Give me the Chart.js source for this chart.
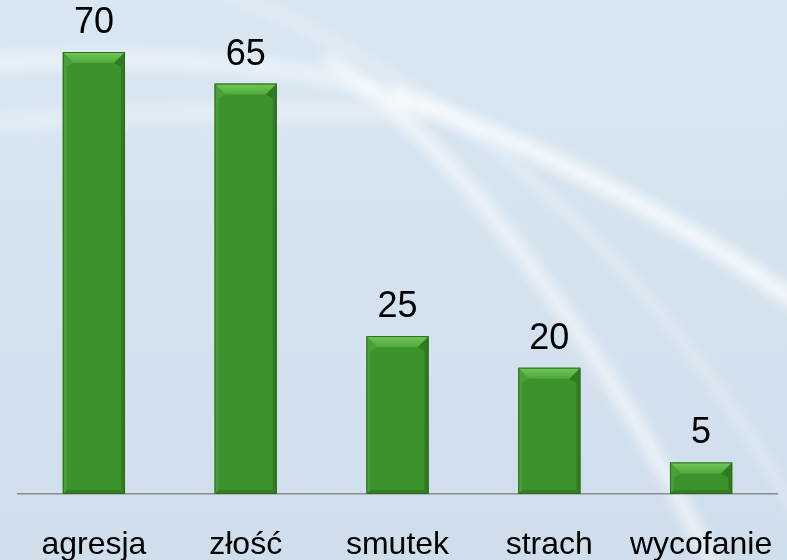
<!DOCTYPE html>
<html>
<head>
<meta charset="utf-8">
<script src="https://cdn.jsdelivr.net/npm/chart.js@4"></script>
<style>
html,body{margin:0;padding:0;background:#d5e4f0;}
#wrap{width:787px;height:560px;position:relative;}
</style>
</head>
<body>
<div id="wrap"><canvas id="c" width="787" height="560"></canvas></div>
<script>
const categories = ['agresja', 'złość', 'smutek', 'strach', 'wycofanie'];
const values = [70, 65, 25, 20, 5];

const bgPlugin = {
  id: 'bg',
  beforeDraw(chart) {
    const ctx = chart.ctx, w = chart.width, h = chart.height;
    ctx.save();
    const g = ctx.createLinearGradient(0, 0, 0, h);
    g.addColorStop(0, '#d9e7f2');
    g.addColorStop(1, '#cfdeeb');
    ctx.fillStyle = g;
    ctx.fillRect(0, 0, w, h);
    ctx.filter = 'blur(6px)';
    ctx.lineCap = 'round';
    ctx.strokeStyle = 'rgba(255,255,255,0.25)';
    ctx.lineWidth = 24;
    ctx.beginPath(); ctx.moveTo(-30, 125); ctx.quadraticCurveTo(200, 108, 420, 112); ctx.stroke();
    ctx.strokeStyle = 'rgba(255,255,255,0.45)';
    ctx.lineWidth = 18;
    ctx.beginPath(); ctx.moveTo(-30, 64); ctx.bezierCurveTo(150, 52, 300, 62, 400, 97); ctx.stroke();
    ctx.strokeStyle = 'rgba(255,255,255,0.7)';
    ctx.beginPath(); ctx.moveTo(400, 97); ctx.bezierCurveTo(550, 150, 700, 230, 820, 320); ctx.stroke();
    ctx.strokeStyle = 'rgba(255,255,255,0.55)';
    ctx.lineWidth = 16;
    ctx.beginPath(); ctx.moveTo(330, 60); ctx.bezierCurveTo(380, 95, 420, 130, 480, 200); ctx.bezierCurveTo(560, 300, 650, 430, 720, 580); ctx.stroke();
    ctx.strokeStyle = 'rgba(255,255,255,0.25)';
    ctx.lineWidth = 12;
    ctx.beginPath(); ctx.moveTo(220, -10); ctx.bezierCurveTo(450, 80, 650, 250, 800, 520); ctx.stroke();
    ctx.restore();
  }
};

const bevelPlugin = {
  id: 'bevel',
  afterDatasetsDraw(chart) {
    const ctx = chart.ctx;
    const meta = chart.getDatasetMeta(0);
    ctx.save();
    meta.data.forEach((bar, i) => {
      const p = bar.getProps(['x', 'y', 'base', 'width'], true);
      const l = p.x - p.width / 2, r = p.x + p.width / 2, t = p.y, b = p.base;
      const bv = Math.min(11, (b - t) / 2.5);
      const sv = 4;
      const tg = ctx.createLinearGradient(0, t, 0, t + bv);
      tg.addColorStop(0, '#74c95a');
      tg.addColorStop(1, '#4ea83a');
      ctx.fillStyle = tg;
      ctx.beginPath();
      ctx.moveTo(l, t); ctx.lineTo(r, t); ctx.lineTo(r - bv, t + bv); ctx.lineTo(l + bv, t + bv); ctx.closePath();
      ctx.fill();
      ctx.fillStyle = 'rgba(90,170,70,0.5)';
      ctx.beginPath();
      ctx.moveTo(l, t); ctx.lineTo(l + bv, t + bv); ctx.lineTo(l + sv, t + bv + 4); ctx.lineTo(l + sv, b - sv); ctx.lineTo(l, b); ctx.closePath();
      ctx.fill();
      ctx.fillStyle = 'rgba(30,90,20,0.4)';
      ctx.beginPath();
      ctx.moveTo(r, t); ctx.lineTo(r - bv, t + bv); ctx.lineTo(r - sv, t + bv + 4); ctx.lineTo(r - sv, b - sv); ctx.lineTo(r, b); ctx.closePath();
      ctx.fill();
      ctx.fillStyle = 'rgba(30,90,20,0.35)';
      ctx.beginPath();
      ctx.moveTo(l, b); ctx.lineTo(r, b); ctx.lineTo(r - sv, b - sv); ctx.lineTo(l + sv, b - sv); ctx.closePath();
      ctx.fill();
      ctx.strokeStyle = '#2b6b1e';
      ctx.lineWidth = 1;
      ctx.strokeRect(l + 0.5, t + 0.5, r - l - 1, b - t - 1);
      ctx.fillStyle = '#000';
      ctx.font = '36px "Liberation Sans", Arial, sans-serif';
      ctx.textAlign = 'center';
      ctx.textBaseline = 'alphabetic';
      ctx.fillText(String(values[i]), p.x, t - 19);
    });
    ctx.restore();
  }
};

new Chart(document.getElementById('c'), {
  type: 'bar',
  data: {
    labels: categories,
    datasets: [{
      data: values,
      backgroundColor: '#3c922b',
      borderWidth: 0,
      barPercentage: 0.41,
      categoryPercentage: 1.0
    }]
  },
  options: {
    responsive: false,
    animation: false,
    events: [],
    layout: { padding: { top: 52, left: 18, right: 10, bottom: 0 } },
    plugins: { legend: { display: false }, tooltip: { enabled: false } },
    scales: {
      x: {
        grid: { display: false, drawTicks: false },
        border: { display: true, color: '#8c8c8c', width: 1.5 },
        ticks: {
          color: '#000',
          padding: 35,
          font: { family: '"Liberation Sans", Arial, sans-serif', size: 32, lineHeight: 1 }
        },
        afterFit(scale) {
          scale.paddingLeft = 0;
          scale.paddingRight = 0;
          scale.height = 66;
        }
      },
      y: {
        display: false,
        min: 0,
        max: 70
      }
    }
  },
  plugins: [bgPlugin, bevelPlugin]
});
</script>
</body>
</html>
